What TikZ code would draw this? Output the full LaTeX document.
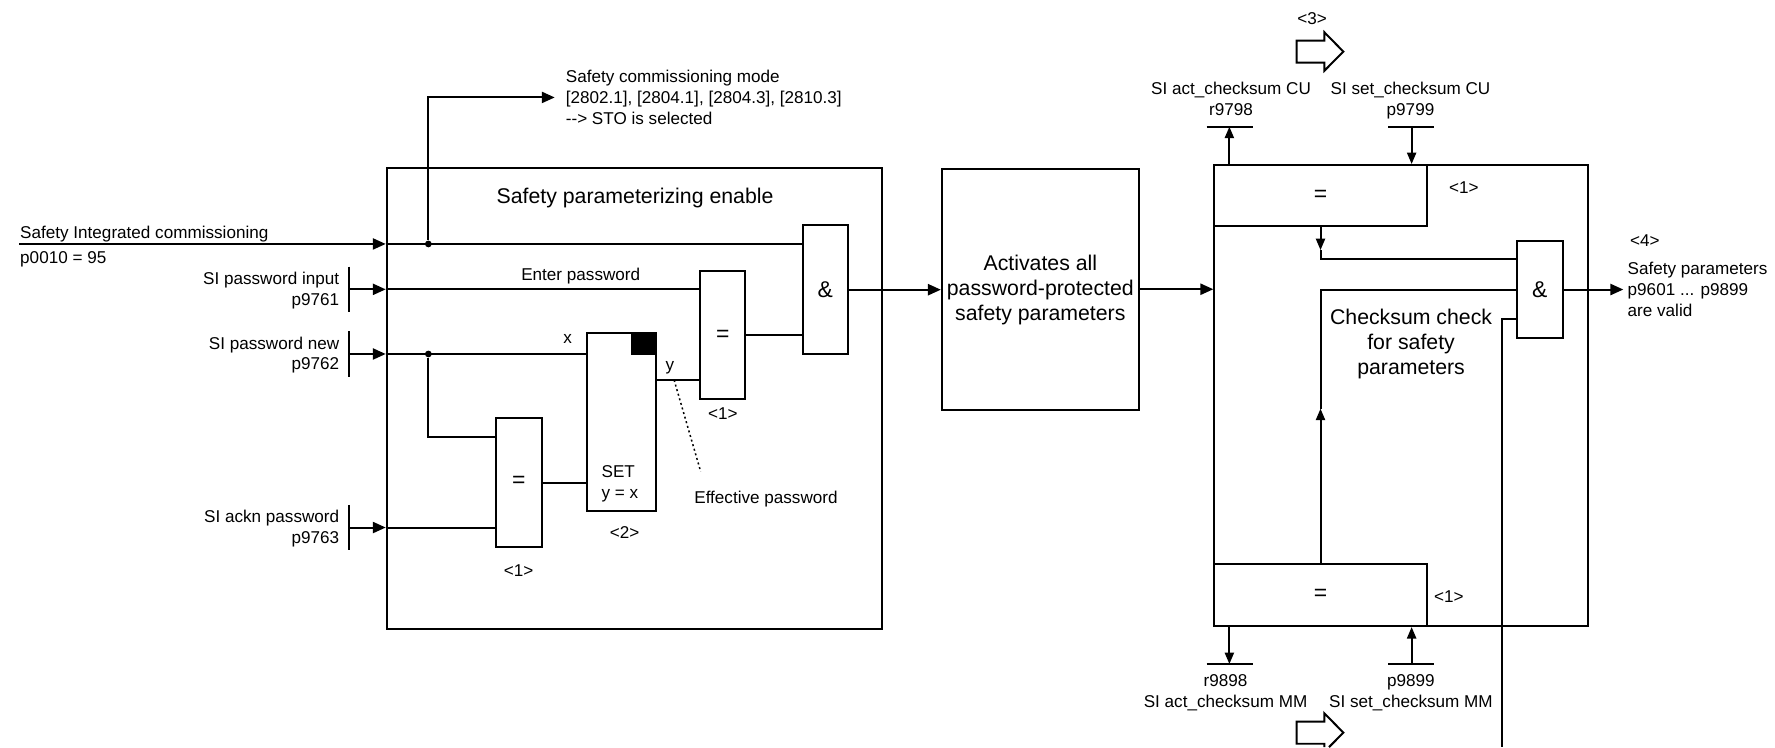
\documentclass[tikz,border=0pt]{standalone}
\usepackage{fontspec}
\setmainfont{Liberation Sans}
\usetikzlibrary{
    calc,
    arrows.meta,
    fit
}
\tikzset{
  every path/.style={
    black,
    line width=1pt
  },
  every node/.style={
    inner sep=0pt
  },
  lbl/.style={
    font=\fontsize{8.6}{10.5}\selectfont
  },
  bigtxt/.style={
    font=\fontsize{10.7}{12.6}\selectfont
  },
  gsym/.style={
    font=\fontsize{11.5}{13}\selectfont
  },
  jdot/.style={
    circle,
    fill,
    minimum size=3.4pt
  },
  smarrow/.style={
    -{Triangle[length=5.8pt,width=4.6pt]}
  }
}

\begin{document}
\begin{tikzpicture}[x=0.02cm,y=-0.02cm,>={Triangle[length=6.5pt,width=5.6pt]}]
    \useasboundingbox (0,0) rectangle (1568,660);

    % ブロック
    \node[draw,fit={(341.6,148.7) (779,556)}] (penable) {};
    \node[draw,fit={(709,198.8) (749,313)}] (andA) {};
    \node[draw,fit={(618.5,239) (658.5,352.5)}] (eqA) {};
    \node[draw,fit={(438,369.5) (478.5,483)}] (eqB) {};
    \node[draw,fit={(518.5,294) (579.5,451)}] (setx) {};
    \node[draw,fill,fit={(558,294) (579.5,313)}] (setmark) {};
    \node[draw,fit={(832,149) (1006,362)}] (act) {};
    \node[draw,fit={(1072.7,145.8) (1403,553)}] (chk) {};
    \node[draw,fit={(1072.7,145.8) (1260.3,199.6)}] (eqC) {};
    \node[draw,fit={(1072.7,498.5) (1260.3,553)}] (eqD) {};
    \node[draw,fit={(1340,212.6) (1380.5,298.9)}] (andB) {};

    % 記号
    \node[gsym] (andAsym) at (andA.center) {\&};
    \node[gsym] (eqAsym) at ($(eqA.center)+(0,1)$) {=};
    \node[gsym] (eqBsym) at ($(eqB.center)+(0,-1)$) {=};
    \node[gsym] (eqCsym) at (eqC.center) {=};
    \node[gsym] (eqDsym) at (eqD.center) {=};
    \node[gsym] (andBsym) at (andB.center) {\&};

    % テキスト
    \node[bigtxt,align=center] (acttxt) at ($(act.center)+(0,0.5)$)
        {Activates all\\password-protected\\safety parameters};
    \node[bigtxt] (ptitle) at (561,175) {Safety parameterizing enable};
    \node[bigtxt,align=center] (chktxt) at (1246.5,304) {Checksum check\\for safety\\parameters};
    \node[lbl,align=left,anchor=north west] (settxt) at (530.6,410.8) {SET\\y = x};
    \node[lbl] (n1a) at (638.6,365.7) {<1>};
    \node[lbl] (n1b) at (458.2,503.9) {<1>};
    \node[lbl] (n2) at (551.8,470.4) {<2>};
    \node[lbl] (n1c) at (1293.2,165.9) {<1>};
    \node[lbl] (n1d) at (1279.8,527.1) {<1>};
    \node[lbl] (n3) at (1159,16.2) {<3>};
    \node[lbl] (n4) at (1453,212.9) {<4>};
    \node[lbl,anchor=base] (xlbl) at (501.5,303.3) {x};
    \node[lbl,anchor=base] (ylbl) at (591.7,327.4) {y};
    \node[lbl,anchor=base] (entpw) at (513,247.5) {Enter password};
    \node[lbl,anchor=base west] (effpw) at (612.5,444.5) {Effective password};

    % 入力
    \coordinate (sic) at (17,215.5);
    \coordinate (pwin) at (308.5,255.6);
    \coordinate (pwnew) at (308.5,312.7);
    \coordinate (pwack) at (308.5,466);
    \node[lbl,anchor=base west] (sictxt) at (17,210.5) {Safety Integrated commissioning};
    \node[lbl,anchor=base west] (p0010) at (17,233.2) {p0010 = 95};
    \node[lbl,align=right,anchor=east] (pwintxt) at ($(pwin)+(-8,1)$) {SI password input\\p9761};
    \node[lbl,align=right,anchor=east] (pwnewtxt) at ($(pwnew)+(-8,1)$) {SI password new\\p9762};
    \node[lbl,align=right,anchor=east] (pwacktxt) at ($(pwack)+(-8,1)$) {SI ackn password\\p9763};
    \draw (pwin) +(0,-20) -- +(0,20);
    \draw (pwnew) +(0,-20) -- +(0,20);
    \draw (pwack) +(0,-20) -- +(0,20);
    \draw[->] (sic) -- (sic -| penable.west);
    \draw (sic -| penable.west) -- (sic -| andA.west);
    \draw[->] (pwin) -- (pwin -| penable.west);
    \draw (pwin -| penable.west) -- (pwin -| eqA.west);
    \draw[->] (pwnew) -- (pwnew -| penable.west);
    \draw (pwnew -| penable.west) -- (pwnew -| setx.west);
    \draw[->] (pwack) -- (pwack -| penable.west);
    \draw (pwack -| penable.west) -- (pwack -| eqB.west);

    % 分岐
    \node[jdot] (j1) at (378.4,215.5) {};
    \node[jdot] (j2) at (378.4,312.7) {};
    \node[lbl,align=left,anchor=north west,inner xsep=0.18cm] (stotxt) at (490,61.2)
        {Safety commissioning mode\\{}[2802.1], [2804.1], [2804.3], [2810.3]\\-{}-> STO is selected};
    \draw[->] (j1) |- (stotxt);
    \draw (j2) |- (eqB.west |- 0,386.3);

    % パスワード
    \coordinate (yout) at (setx.east |- 0,335.7);
    \coordinate (ytap) at (595.5,335.7);
    \coordinate (efftip) at (619,416.7);
    \draw (yout) -- (yout -| eqA.west);
    \draw[line width=0.75pt,dash pattern=on 1pt off 1.4pt] (ytap) -- (efftip);
    \draw (eqB.east) -- (eqB.east -| setx.west);
    \draw (eqA.east) -- (eqA.east -| andA.west);
    \draw[->] (andA.east) -- (andA.east -| act.west);
    \draw[->] (act.east) -- (act.east -| chk.west);

    % チェックサム
    \coordinate (r9798) at (1086,111.9);
    \coordinate (p9799) at (1247,111.9);
    \coordinate (r9898) at (1086,586.6);
    \coordinate (p9899) at (1247,586.6);
    \draw (r9798) +(-20,0) -- +(20.6,0);
    \draw (p9799) +(-20.5,0) -- +(19.8,0);
    \draw (r9898) +(-20,0) -- +(20.6,0);
    \draw (p9899) +(-20.5,0) -- +(19.8,0);
    \draw[smarrow] (eqC.north -| r9798) -- (r9798);
    \draw[smarrow] (p9799) -- (p9799 |- eqC.north);
    \draw[smarrow] (eqD.south -| r9898) -- (r9898);
    \draw[smarrow] (p9899) -- (p9899 |- eqD.south);
    \node[lbl,align=center,anchor=south] (r9798txt) at (1087.5,102.8) {SI act\_checksum CU\\r9798};
    \node[lbl,align=center,anchor=south] (p9799txt) at (1246,106.1) {SI set\_checksum CU\\p9799};
    \node[lbl,align=center,anchor=north] (r9898txt) at (1082.6,594.8) {r9898\\SI act\_checksum MM};
    \node[lbl,align=center,anchor=north] (p9899txt) at (1246.4,594.8) {p9899\\SI set\_checksum MM};

    % 判定
    \coordinate (cdown) at (eqC.south |- 0,220.9);
    \coordinate (cup) at (eqD.north |- 0,361);
    \coordinate (cbot) at (1326.6,660);
    \coordinate (validpt) at (1434,255.75);
    \draw[smarrow] (eqC.south) -- (cdown);
    \draw (cdown) |- (andB.west |- 0,229.1);
    \draw[smarrow] (eqD.north) -- (cup);
    \draw (cup) |- (andB.west);
    \draw (andB.west |- 0,282.1) -| (cbot);
    \draw[->] (andB.east) -- (validpt);
    \node[lbl,align=left,anchor=north west] (validtxt) at (1437,231.1)
        {Safety parameters\\p9601 ... p9899\\are valid};

    % 白抜き矢印
    \draw (1145.5,35.9) -- (1170,35.9) -- (1170,28.6) -- (1186.7,45.6)
        -- (1170,62.4) -- (1170,55.4) -- (1145.5,55.4) -- cycle;
    \draw (1174,660) -- (1186.7,647.2) -- (1170,630.2) -- (1170,637.5)
        -- (1145.5,637.5) -- (1145.5,657) -- (1170,657) -- (1170,660);
\end{tikzpicture}
\end{document}
